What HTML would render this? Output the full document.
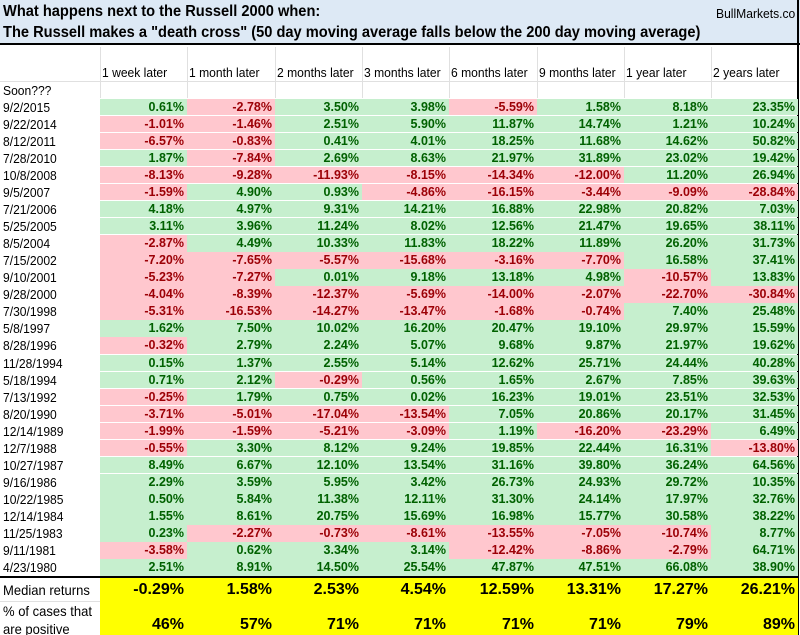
<!DOCTYPE html>
<html><head><meta charset="utf-8">
<style>
body{margin:0;background:#fff;font-family:"Liberation Sans",sans-serif;}
#root{position:relative;width:800px;height:635px;overflow:hidden;background:#fff;}
.abs{position:absolute;box-sizing:border-box;white-space:nowrap;}
.t{font-weight:bold;font-size:16px;color:#000;display:inline-block;transform:scaleX(0.915);transform-origin:left center;}
.hd{font-size:13px;color:#000;display:inline-block;transform:scaleX(0.93);transform-origin:left center;}
.c{font-size:12.5px;font-weight:bold;text-align:right;padding-right:3px;line-height:17px;}
.g{background:#c6efce;color:#006100;}
.r{background:#ffc7ce;color:#9c0006;}
.lbl{padding-left:3px;color:#000;}
.y{background:#ffff00;font-weight:bold;font-size:16px;text-align:right;padding-right:3px;color:#000;}
.vl{background:#e0e0e0;width:1px;}
</style></head><body>
<div id="root">
  <div class="abs" style="left:0;top:0;width:800px;height:45px;background:#dde9f5;border-bottom:2px solid #000;"></div>
  <div class="abs" style="left:3px;top:3px;"><span class="t">What happens next to the Russell 2000 when:</span></div>
  <div class="abs" style="left:3px;top:24px;"><span class="t">The Russell makes a "death cross" (50 day moving average falls below the 200 day moving average)</span></div>
  <div class="abs" style="left:716px;top:5px;"><span class="hd">BullMarkets.co</span></div>
  <div class="abs" style="left:797px;top:0;width:2px;height:635px;background:#000;"></div>
  <div class="abs" style="left:3px;top:82px;"><span class="hd">Soon???</span></div>
</div>
<script>
const columns=["1 week later","1 month later","2 months later","3 months later","6 months later","9 months later","1 year later","2 years later"];
const dates=["9/2/2015","9/22/2014","8/12/2011","7/28/2010","10/8/2008","9/5/2007","7/21/2006","5/25/2005","8/5/2004","7/15/2002","9/10/2001","9/28/2000","7/30/1998","5/8/1997","8/28/1996","11/28/1994","5/18/1994","7/13/1992","8/20/1990","12/14/1989","12/7/1988","10/27/1987","9/16/1986","10/22/1985","12/14/1984","11/25/1983","9/11/1981","4/23/1980"];
const week=[0.61,-1.01,-6.57,1.87,-8.13,-1.59,4.18,3.11,-2.87,-7.20,-5.23,-4.04,-5.31,1.62,-0.32,0.15,0.71,-0.25,-3.71,-1.99,-0.55,8.49,2.29,0.50,1.55,0.23,-3.58,2.51];
const month1=[-2.78,-1.46,-0.83,-7.84,-9.28,4.90,4.97,3.96,4.49,-7.65,-7.27,-8.39,-16.53,7.50,2.79,1.37,2.12,1.79,-5.01,-1.59,3.30,6.67,3.59,5.84,8.61,-2.27,0.62,8.91];
const month2=[3.50,2.51,0.41,2.69,-11.93,0.93,9.31,11.24,10.33,-5.57,0.01,-12.37,-14.27,10.02,2.24,2.55,-0.29,0.75,-17.04,-5.21,8.12,12.10,5.95,11.38,20.75,-0.73,3.34,14.50];
const month3=[3.98,5.90,4.01,8.63,-8.15,-4.86,14.21,8.02,11.83,-15.68,9.18,-5.69,-13.47,16.20,5.07,5.14,0.56,0.02,-13.54,-3.09,9.24,13.54,3.42,12.11,15.69,-8.61,3.14,25.54];
const month6=[-5.59,11.87,18.25,21.97,-14.34,-16.15,16.88,12.56,18.22,-3.16,13.18,-14.00,-1.68,20.47,9.68,12.62,1.65,16.23,7.05,1.19,19.85,31.16,26.73,31.30,16.98,-13.55,-12.42,47.87];
const month9=[1.58,14.74,11.68,31.89,-12.00,-3.44,22.98,21.47,11.89,-7.70,4.98,-2.07,-0.74,19.10,9.87,25.71,2.67,19.01,20.86,-16.20,22.44,39.80,24.93,24.14,15.77,-7.05,-8.86,47.51];
const year1=[8.18,1.21,14.62,23.02,11.20,-9.09,20.82,19.65,26.20,16.58,-10.57,-22.70,7.40,29.97,21.97,24.44,7.85,23.51,20.17,-23.29,16.31,36.24,29.72,17.97,30.58,-10.74,-2.79,66.08];
const year2=[23.35,10.24,50.82,19.42,26.94,-28.84,7.03,38.11,31.73,37.41,13.83,-30.84,25.48,15.59,19.62,40.28,39.63,32.53,31.45,6.49,-13.80,64.56,10.35,32.76,38.22,8.77,64.71,38.90];
const medians=["-0.29%","1.58%","2.53%","4.54%","12.59%","13.31%","17.27%","26.21%"];
const positives=["46%","57%","71%","71%","71%","71%","79%","89%"];
const series=[week,month1,month2,month3,month6,month9,year1,year2];
const root=document.getElementById('root');
const colX=[100,187,275,362,449,537,624,711,798];
const rowTop=98.5,rowH=17.07;
function mk(cls,style,text){const d=document.createElement('div');d.className='abs '+cls;d.setAttribute('style',style);if(text!==undefined)d.innerHTML=text;root.appendChild(d);return d;}
for(let i=0;i<colX.length-1;i++){
  const v=mk('vl','left:'+colX[i]+'px;top:47px;height:51px;');
  
  
}
mk('','left:0;top:81px;width:797px;height:1px;background:#e0e0e0;');
columns.forEach((c,i)=>{
  const h=mk('','left:'+(colX[i]+2)+'px;top:64px;','<span class="hd">'+c+'</span>');
  
  
});
dates.forEach((d,r)=>{
  const y=rowTop+r*rowH;
  const dl=mk('lbl','left:0;top:'+y+'px;height:17px;line-height:17px;','<span class="hd">'+d+'</span>');
  
  
  series.forEach((s,i)=>{
    const v=s[r];
    const cell=mk('c '+(v>=0?'g':'r'),'left:'+colX[i]+'px;top:'+y+'px;width:'+(colX[i+1]-colX[i])+'px;height:'+(rowH-0.6)+'px;',v.toFixed(2)+'%');
    
    
  });
});
const endY=rowTop+dates.length*rowH;
const bl=mk('','left:0;top:'+(endY)+'px;width:798px;height:2px;background:#000;');


const yTop=endY+2;
const yb=mk('','left:100px;top:'+yTop+'px;width:698px;height:'+(635-yTop)+'px;background:#ffff00;');


const ml=mk('lbl','left:0;top:'+(yTop+4)+'px;','<span class="hd" style="font-size:14px">Median returns</span>');


const pl=mk('lbl','left:0;top:'+(yTop+24)+'px;line-height:18px;','<span class="hd" style="font-size:14px">% of cases that<br>are positive</span>');


mk('','left:0;top:'+(yTop+23)+'px;width:100px;height:1px;background:#e0e0e0;');
medians.forEach((m,i)=>{
  const c=mk('y','left:'+colX[i]+'px;top:'+(yTop+3)+'px;width:'+(colX[i+1]-colX[i])+'px;background:transparent;',m);
  
  
});
positives.forEach((m,i)=>{
  const c=mk('y','left:'+colX[i]+'px;top:'+(yTop+38)+'px;width:'+(colX[i+1]-colX[i])+'px;background:transparent;',m);
  
  
});
</script>
</body></html>
